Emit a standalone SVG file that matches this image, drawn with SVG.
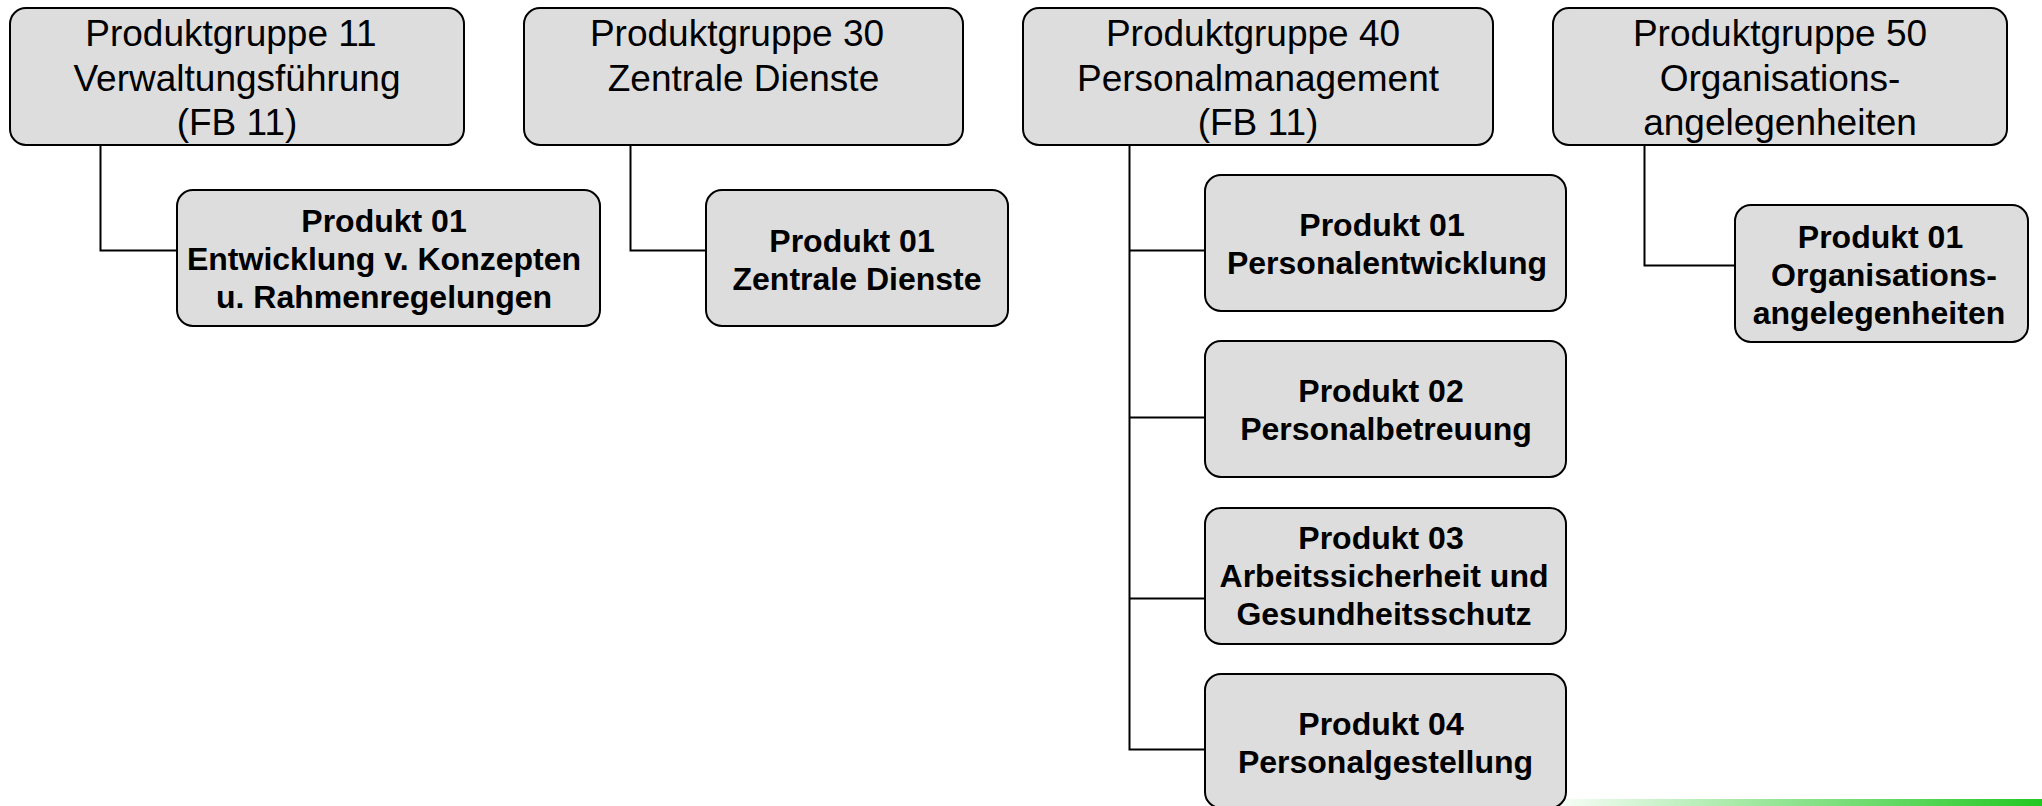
<svg xmlns="http://www.w3.org/2000/svg" width="2042" height="806" viewBox="0 0 2042 806">
<defs>
<linearGradient id="gbar" x1="0" y1="0" x2="1" y2="0">
<stop offset="0" stop-color="#ffffff"/>
<stop offset="1" stop-color="#22c822"/>
</linearGradient>
<style>
.box{fill:#dddddd;stroke:#000;stroke-width:2}
.conn{fill:none;stroke:#000;stroke-width:2}
.pg{font-family:"Liberation Sans",Arial,sans-serif;font-size:37px;fill:#000;text-anchor:middle}
.pr{font-family:"Liberation Sans",Arial,sans-serif;font-size:32px;font-weight:bold;fill:#000;text-anchor:middle}
</style>
</defs>
<rect x="1540" y="799" width="502" height="7" fill="url(#gbar)"/>
<g id="connectors">
<path class="conn" d="M100.5 145 V250.5 H177"/>
<path class="conn" d="M630.5 145 V250.5 H706"/>
<path class="conn" d="M1129.5 145 V749.5 H1205"/>
<path class="conn" d="M1129.5 250.5 H1205"/>
<path class="conn" d="M1129.5 417.5 H1205"/>
<path class="conn" d="M1129.5 598.5 H1205"/>
<path class="conn" d="M1644.5 145 V265.5 H1735"/>
</g>
<g id="pg11">
<rect class="box" x="10" y="8" width="454" height="137" rx="16"/>
<text class="pg" x="231" y="46">Produktgruppe 11</text>
<text class="pg" x="237" y="90.5">Verwaltungsführung</text>
<text class="pg" x="237" y="135">(FB 11)</text>
</g>
<g id="pg30">
<rect class="box" x="524" y="8" width="439" height="137" rx="16"/>
<text class="pg" x="737" y="46">Produktgruppe 30</text>
<text class="pg" x="743.5" y="90.5">Zentrale Dienste</text>
</g>
<g id="pg40">
<rect class="box" x="1023" y="8" width="470" height="137" rx="16"/>
<text class="pg" x="1253" y="46">Produktgruppe 40</text>
<text class="pg" x="1258" y="90.5">Personalmanagement</text>
<text class="pg" x="1258" y="135">(FB 11)</text>
</g>
<g id="pg50">
<rect class="box" x="1553" y="8" width="454" height="137" rx="16"/>
<text class="pg" x="1780" y="46">Produktgruppe 50</text>
<text class="pg" x="1780" y="90.5">Organisations-</text>
<text class="pg" x="1780" y="135">angelegenheiten</text>
</g>
<g id="pg11-p01">
<rect class="box" x="177" y="190" width="423" height="136" rx="16"/>
<text class="pr" x="384" y="232">Produkt 01</text>
<text class="pr" x="384" y="270">Entwicklung v. Konzepten</text>
<text class="pr" x="384" y="308">u. Rahmenregelungen</text>
</g>
<g id="pg30-p01">
<rect class="box" x="706" y="190" width="302" height="136" rx="16"/>
<text class="pr" x="852" y="252">Produkt 01</text>
<text class="pr" x="857" y="290">Zentrale Dienste</text>
</g>
<g id="pg40-p01">
<rect class="box" x="1205" y="175" width="361" height="136" rx="16"/>
<text class="pr" x="1382" y="236">Produkt 01</text>
<text class="pr" x="1387" y="274">Personalentwicklung</text>
</g>
<g id="pg40-p02">
<rect class="box" x="1205" y="341" width="361" height="136" rx="16"/>
<text class="pr" x="1381" y="402">Produkt 02</text>
<text class="pr" x="1386" y="440">Personalbetreuung</text>
</g>
<g id="pg40-p03">
<rect class="box" x="1205" y="508" width="361" height="136" rx="16"/>
<text class="pr" x="1381" y="549">Produkt 03</text>
<text class="pr" x="1384" y="587">Arbeitssicherheit und</text>
<text class="pr" x="1384" y="625">Gesundheitsschutz</text>
</g>
<g id="pg40-p04">
<rect class="box" x="1205" y="674" width="361" height="134" rx="16"/>
<text class="pr" x="1381" y="735">Produkt 04</text>
<text class="pr" x="1385.5" y="773">Personalgestellung</text>
</g>
<g id="pg50-p01">
<rect class="box" x="1735" y="205" width="293" height="137" rx="16"/>
<text class="pr" x="1880.5" y="248">Produkt 01</text>
<text class="pr" x="1884" y="286">Organisations-</text>
<text class="pr" x="1879" y="324">angelegenheiten</text>
</g>
</svg>
